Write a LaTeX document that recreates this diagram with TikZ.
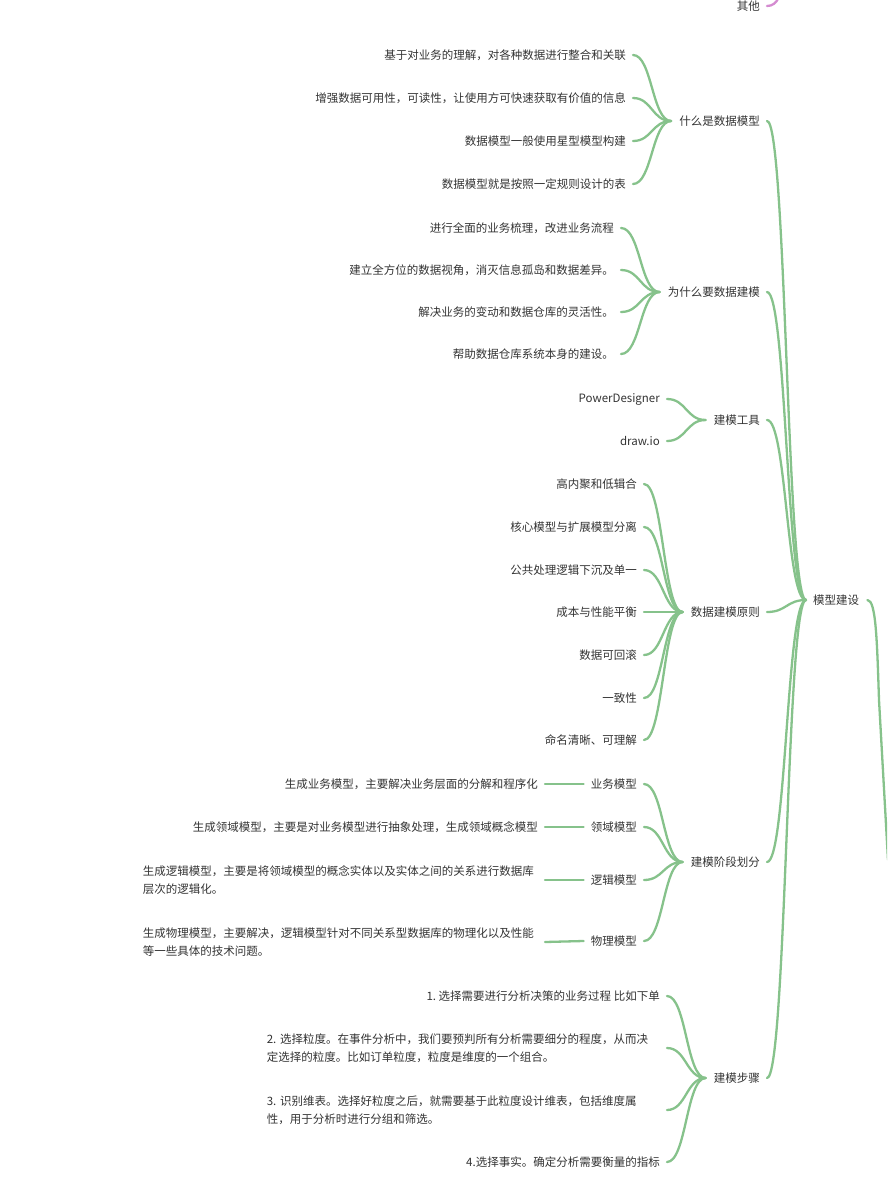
\documentclass[tikz,border=0pt]{standalone}
\usepackage{fontspec}
\usetikzlibrary{calc}
\setmainfont{Noto Sans CJK SC}
\definecolor{textc}{HTML}{333333}
\definecolor{linkc}{HTML}{86C28B}
\definecolor{pinkc}{HTML}{D48BD0}
\begin{document}
\begin{tikzpicture}[x=1pt,y=-1pt,
  txt/.style={font=\fontsize{11.5}{18}\selectfont\frenchspacing, text=textc, inner sep=0pt, anchor=east},
  multi/.style={txt, align=left, text width=#1},
  link/.style={draw=linkc, line width=2.3pt, line cap=round},
  branch/.style={to path={let \p1=(\tikztostart), \p2=(\tikztotarget) in
     .. controls ({(\x1+\x2)/2},\y1) and ({(\x1+\x2)/2},\y2) .. (\tikztotarget)}}]
\useasboundingbox (0,0) rectangle (887,1181);
\clip (0,0) rectangle (887,1181);

% root
\node[txt, anchor=west] (root) at (813,600) {模型建设};
\coordinate (rootout) at (888,860);
\draw[link] ([xshift=8]root.east) .. controls (876,600) and (877,640) .. (879,700) -- (rootout);

% other (pink)
\node[txt] (other) at (760,6) {其他};
\coordinate (otherout) at (784,-30);
\draw[draw=pinkc, line width=2.3pt, line cap=round] ([xshift=7]other.east) .. controls (778,6) and (782,-6) .. (otherout);

% level 1
\node[txt] (a) at (760,121) {什么是数据模型};
\node[txt] (b) at (760,292) {为什么要数据建模};
\node[txt] (c) at (760,420) {建模工具};
\node[txt] (d) at (760,612) {数据建模原则};
\node[txt] (e) at (760,862) {建模阶段划分};
\node[txt] (f) at (760,1078) {建模步骤};
\foreach \n in {a,b,c,d,e,f}
  \draw[link] ([xshift=7]\n.east) to[branch] ([xshift=-7]root.west);

% a children
\node[txt] (a1) at (626,55) {基于对业务的理解，对各种数据进行整合和关联};
\node[txt] (a2) at (626,98) {增强数据可用性，可读性，让使用方可快速获取有价值的信息};
\node[txt] (a3) at (626,141) {数据模型一般使用星型模型构建};
\node[txt] (a4) at (626,184) {数据模型就是按照一定规则设计的表};
\foreach \n in {a1,a2,a3,a4}
  \draw[link] ([xshift=7]\n.east) to[branch] ([xshift=-8]a.west);

% b children
\node[txt] (b1) at (614,228) {进行全面的业务梳理，改进业务流程};
\node[txt] (b2) at (614,270) {建立全方位的数据视角，消灭信息孤岛和数据差异。};
\node[txt] (b3) at (614,312) {解决业务的变动和数据仓库的灵活性。};
\node[txt] (b4) at (614,354) {帮助数据仓库系统本身的建设。};
\foreach \n in {b1,b2,b3,b4}
  \draw[link] ([xshift=7]\n.east) to[branch] ([xshift=-8]b.west);

% c children
\node[txt] (c1) at (660,399) {PowerDesigner};
\node[txt] (c2) at (660,441) {draw.io};
\foreach \n in {c1,c2}
  \draw[link] ([xshift=7]\n.east) to[branch] ([xshift=-8]c.west);

% d children
\node[txt] (d1) at (637,484) {高内聚和低辑合};
\node[txt] (d2) at (637,527) {核心模型与扩展模型分离};
\node[txt] (d3) at (637,570) {公共处理逻辑下沉及单一};
\node[txt] (d4) at (637,612) {成本与性能平衡};
\node[txt] (d5) at (637,655) {数据可回滚};
\node[txt] (d6) at (637,698) {一致性};
\node[txt] (d7) at (637,740) {命名清晰、可理解};
\foreach \n in {d1,d2,d3,d4,d5,d6,d7}
  \draw[link] ([xshift=7]\n.east) to[branch] ([xshift=-8]d.west);

% e children
\node[txt] (e1) at (637,784) {业务模型};
\node[txt] (e2) at (637,827) {领域模型};
\node[txt] (e3) at (637,880) {逻辑模型};
\node[txt] (e4) at (637,941) {物理模型};
\foreach \n in {e1,e2,e3,e4}
  \draw[link] ([xshift=7]\n.east) to[branch] ([xshift=-8]e.west);

\node[txt] (e1a) at (538,784) {生成业务模型，主要解决业务层面的分解和程序化};
\node[txt] (e2a) at (538,827) {生成领域模型，主要是对业务模型进行抽象处理，生成领域概念模型};
\node[multi=395pt] (e3a) at (538,880) {生成逻辑模型，主要是将领域模型的概念实体以及实体之间的关系进行数据库\\层次的逻辑化。};
\node[multi=395pt] (e4a) at (538,942) {生成物理模型，主要解决，逻辑模型针对不同关系型数据库的物理化以及性能\\等一些具体的技术问题。};
\draw[link] ([xshift=7]e1a.east) -- ([xshift=-7]e1.west);
\draw[link] ([xshift=7]e2a.east) -- ([xshift=-7]e2.west);
\draw[link] ([xshift=7]e3a.east) -- ([xshift=-7]e3.west);
\draw[link] ([xshift=7]e4a.east) -- ([xshift=-7]e4.west);

% f children
\node[txt] (f1) at (660,996) {1. 选择需要进行分析决策的业务过程 比如下单};
\node[multi=393pt] (f2) at (660,1048) {2. 选择粒度。在事件分析中，我们要预判所有分析需要细分的程度，从而决\\定选择的粒度。比如订单粒度，粒度是维度的一个组合。};
\node[multi=393pt] (f3) at (660,1110) {3. 识别维表。选择好粒度之后，就需要基于此粒度设计维表，包括维度属\\性，用于分析时进行分组和筛选。};
\node[txt] (f4) at (660,1162) {4.选择事实。确定分析需要衡量的指标};
\foreach \n in {f1,f2,f3,f4}
  \draw[link] ([xshift=7]\n.east) to[branch] ([xshift=-8]f.west);
\end{tikzpicture}
\end{document}
